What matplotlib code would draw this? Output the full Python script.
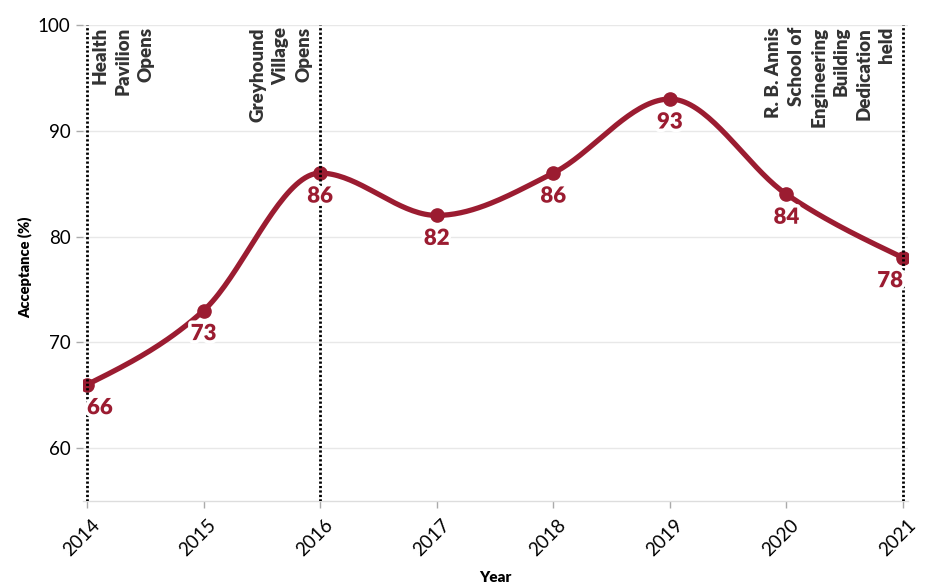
import numpy as np
import matplotlib.pyplot as plt
import matplotlib.patheffects as pe
import matplotlib.transforms as mtransforms

plt.rcParams['font.family'] = ['Lato', 'DejaVu Sans']

years = [2014, 2015, 2016, 2017, 2018, 2019, 2020, 2021]
acceptance = [66, 73, 86, 82, 86, 93, 84, 78]

event_years = [2014, 2016, 2021]
event_labels = [
    "Health\nPavilion\nOpens",
    "Greyhound\nVillage\nOpens",
    "R. B. Annis\nSchool of\nEngineering\nBuilding\nDedication\nheld",
]

y_ticks = [60, 70, 80, 90, 100]

RED = "#9b1c31"
TEXT = "#333333"


def monotone(xs, ys, steps=40):
    # same shape as d3 curveMonotoneX
    x = np.asarray(xs, float)
    y = np.asarray(ys, float)
    h = np.diff(x)
    s = np.diff(y) / h
    n = len(x)
    t = np.zeros(n)
    for i in range(1, n - 1):
        h0, h1 = h[i - 1], h[i]
        s0, s1 = s[i - 1], s[i]
        p = (s0 * h1 + s1 * h0) / (h0 + h1)
        t[i] = (np.sign(s0) + np.sign(s1)) * min(abs(s0), abs(s1), 0.5 * abs(p))
    t[0] = (3 * s[0] - t[1]) / 2
    t[-1] = (3 * s[-1] - t[-2]) / 2
    u = np.linspace(0, 1, steps)
    ox, oy = [x[0]], [y[0]]
    for i in range(n - 1):
        dx = h[i] / 3
        bx = [x[i], x[i] + dx, x[i + 1] - dx, x[i + 1]]
        by = [y[i], y[i] + dx * t[i], y[i + 1] - dx * t[i + 1], y[i + 1]]
        w = [(1 - u) ** 3, 3 * (1 - u) ** 2 * u, 3 * (1 - u) * u ** 2, u ** 3]
        ox.extend(sum(wk * bk for wk, bk in zip(w, bx))[1:])
        oy.extend(sum(wk * bk for wk, bk in zip(w, by))[1:])
    return ox, oy


fig = plt.figure(figsize=(9.32, 5.85), dpi=100)
ax = fig.add_axes([83 / 932, 84 / 585, 825 / 932, 476 / 585])

px_year = (903 - 87) / 7
ax.set_xlim(2014 - 4 / px_year, 2021 + 5 / px_year)
ax.set_ylim(55, 100)

for s in ["top", "right", "left"]:
    ax.spines[s].set_visible(False)
ax.spines["bottom"].set_color("#dddddd")
ax.spines["bottom"].set_linewidth(1)

ax.set_yticks(y_ticks)
ax.set_xticks(years)
ax.grid(axis="y", color="#e8e8e8", linewidth=1)
ax.set_axisbelow(True)
ax.tick_params(axis="both", color="#aaaaaa", length=5, width=1, labelsize=13.5, pad=4)
ax.tick_params(axis="x", pad=6)
shift = mtransforms.ScaledTranslation(4 / 100, 0, fig.dpi_scale_trans)
for lab in ax.set_xticklabels([str(y) for y in years], rotation=45, ha="right", va="top",
                              rotation_mode="anchor"):
    lab.set_transform(lab.get_transform() + shift)

# event rules
for ey, lab in zip(event_years, event_labels):
    ax.axvline(ey, color="black", linewidth=2, linestyle=(0, (0.8, 0.8)), zorder=4)
    if ey == 2014:
        off, ha = 5, "left"
    else:
        off, ha = -8, "right"
    ax.annotate(lab, xy=(ey, 100), xytext=(off, -2), textcoords="offset pixels",
                rotation=90, ha=ha, va="top", multialignment="right",
                fontsize=13.5, fontweight="heavy", color=TEXT, linespacing=1.4)

cx, cy = monotone(years, acceptance)
ax.plot(cx, cy, color=RED, linewidth=3.8, solid_capstyle="round", zorder=3)
ax.plot(years, acceptance, "o", color=RED, markersize=9.5, zorder=3)

halo = [pe.withStroke(linewidth=5, foreground="white")]
for i, (x, y) in enumerate(zip(years, acceptance)):
    ha = "left" if i == 0 else ("right" if i == len(years) - 1 else "center")
    ax.annotate(str(y), xy=(x, y), xytext=(0, -23), textcoords="offset pixels",
                ha=ha, va="center", fontsize=16, fontweight="heavy", color=RED,
                path_effects=halo, zorder=5)

fig.text(25 / 932, 1 - 267 / 585, "Acceptance (%)", rotation=90, ha="center", va="center",
         fontsize=10.5, fontweight="heavy")
fig.text((87 + 903) / 2 / 932, 1 - 578 / 585, "Year", ha="center", va="center",
         fontsize=11, fontweight="heavy")

fig.savefig("out.png", dpi=100, facecolor="white")
